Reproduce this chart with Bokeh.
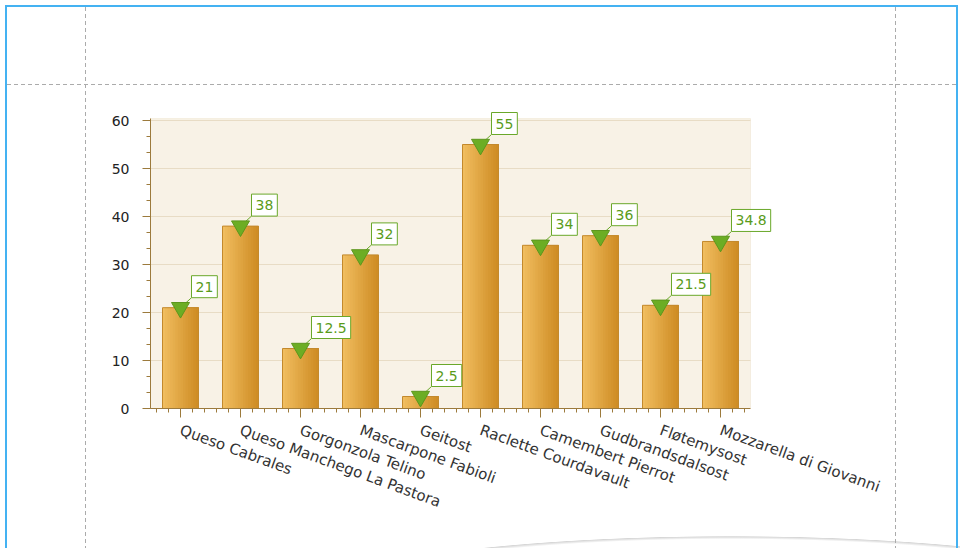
import numpy as np
from bokeh.plotting import figure
from bokeh.models import Range1d, FixedTicker, SingleIntervalTicker, BoxAnnotation
from bokeh.core.properties import value
from bokeh.embed import file_html
from bokeh.resources import INLINE

categories = ["Queso Cabrales", "Queso Manchego La Pastora", "Gorgonzola Telino",
              "Mascarpone Fabioli", "Geitost", "Raclette Courdavault",
              "Camembert Pierrot", "Gudbrandsdalsost", "Fløtemysost",
              "Mozzarella di Giovanni"]
values = [21, 38, 12.5, 32, 2.5, 55, 34, 36, 21.5, 34.8]
value_labels = ["21", "38", "12.5", "32", "2.5", "55", "34", "36", "21.5", "34.8"]
y_ticks = [0, 10, 20, 30, 40, 50, 60]
y_max = 60.4

n = len(categories)
xs = np.arange(n) + 0.5
vals = np.array(values, dtype=float)

# pixel layout
W, H = 960, 548
px_per_cat = 60.0
px_per_unit = 4.8
frame_w, frame_h = 625, 304
p = figure(output_backend="svg", toolbar_location=None,
           frame_width=frame_w, frame_height=frame_h,
           min_border_left=150, min_border_right=W - 150 - frame_w,
           min_border_top=408 - frame_h, min_border_bottom=H - 408,
           x_range=Range1d(0, frame_w / px_per_cat),
           y_range=Range1d(0, frame_h / px_per_unit))

p.background_fill_color = None
p.border_fill_color = None
p.outline_line_color = None

# plot area (cream panel with tan border)
p.add_layout(BoxAnnotation(left=0, right=n, bottom=0, top=y_max,
                           fill_color="#f8f2e6", fill_alpha=1.0,
                           line_color="#e3d4b6", line_width=1,
                           level="underlay"))
# horizontal grid lines
p.segment(x0=0, x1=n, y0=y_ticks[1:], y1=y_ticks[1:],
          line_color="#e8dcc5", line_width=1)

# bars with a left-to-right gradient
bar_w = 0.6
n_strips = 14
c0 = np.array([0xf0, 0xbd, 0x5f])
c1 = np.array([0xcf, 0x8d, 0x25])
for k in range(n_strips):
    t = k / (n_strips - 1)
    c = (c0 * (1 - t) + c1 * t).astype(int)
    col = "#%02x%02x%02x" % tuple(c)
    sw = bar_w / n_strips
    width = bar_w - k * sw
    centers = xs - bar_w / 2 + k * sw + width / 2
    p.vbar(x=centers, top=vals, bottom=0, width=width, fill_color=col, line_color=None)
p.vbar(x=xs, top=vals, bottom=0, width=bar_w, fill_color=None,
       line_color="#c3892c", line_width=1)

green = "#6aa82a"
# connectors from marker to label box
p.segment(x0=xs, y0=vals, x1=xs + 11 / px_per_cat, y1=vals + 10 / px_per_unit,
          line_color=green, line_width=1)
p.scatter(x=xs, y=vals, marker="inverted_triangle", size=18,
          fill_color="#6cad24", line_color="#5c961c", line_width=1)
p.text(x=xs, y=vals, text=value_labels, anchor="bottom_left",
       x_offset=11, y_offset=-10,
       text_font=value("DejaVu Sans"), text_font_size="14px",
       text_color="#5a9b1a",
       background_fill_color="white", border_line_color=green,
       border_line_width=1,
       padding=dict(left=4, right=4, top=6, bottom=6))

axis_col = "#9c7a3c"
# x axis
p.xaxis.bounds = (0, n)
p.xaxis.ticker = FixedTicker(ticks=list(xs),
                             minor_ticks=list(np.arange(0.1, n, 0.2)))
p.xaxis.major_label_overrides = {float(x): c for x, c in zip(xs, categories)}
p.xaxis.major_label_orientation = -0.35
p.xaxis.major_label_standoff = 12
p.xaxis.major_label_text_font = "DejaVu Sans"
p.xaxis.major_label_text_font_size = "15px"
p.xaxis.major_label_text_color = "#333333"

# y axis
p.yaxis.bounds = (0, y_max)
p.yaxis.ticker = SingleIntervalTicker(interval=10, num_minor_ticks=3)
p.yaxis.major_label_standoff = 13
p.yaxis.major_label_text_font = "DejaVu Sans"
p.yaxis.major_label_text_font_size = "14px"
p.yaxis.major_label_text_color = "#222222"

for ax in (p.xaxis, p.yaxis):
    ax.axis_line_color = axis_col
    ax.major_tick_line_color = axis_col
    ax.minor_tick_line_color = axis_col
    ax.major_tick_in = 0
    ax.minor_tick_in = 0
    ax.minor_tick_out = 4
p.xaxis.major_tick_out = 9
p.yaxis.major_tick_out = 8

p.xgrid.visible = False
p.ygrid.visible = False

blue = "linear-gradient(#44b2f2, #44b2f2)"
dash_v = "repeating-linear-gradient(to bottom, #ababab 0px, #ababab 4px, transparent 4px, transparent 7px)"
dash_h = "repeating-linear-gradient(to right, #ababab 0px, #ababab 4px, transparent 4px, transparent 7px)"
swoosh = ("radial-gradient(ellipse 430px 64px at 730px 600px, rgba(0,0,0,0) 0%, "
          "rgba(0,0,0,0) 95%, rgba(0,0,0,0.16) 99%, rgba(0,0,0,0) 100%)")
p.styles = {
    "background-image": f"{blue}, {blue}, {blue}, {dash_v}, {dash_v}, {dash_h}, {swoosh}",
    "background-size": "2px 100%, 2px 100%, 953px 2px, 1px 100%, 1px 100%, 951px 1px, 100% 100%",
    "background-position": "5px 5px, 956px 5px, 5px 5px, 85px 7px, 895px 7px, 7px 84px, 0px 0px",
    "background-repeat": "no-repeat",
}

open("out.html", "w").write(file_html(p, INLINE))
